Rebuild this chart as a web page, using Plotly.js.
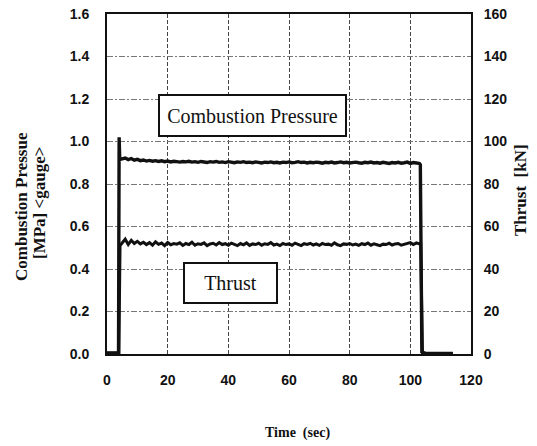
<!DOCTYPE html>
<html>
<head>
<meta charset="utf-8">
<script src="https://cdn.plot.ly/plotly-3.0.1.min.js"></script>
<style>html,body{margin:0;padding:0;background:#fff;}#chart{width:537px;height:446px;}</style>
</head>
<body>
<div id="chart"></div>
<script>
// Time (sec)
var pressureTime = [0, 2, 3.8, 4.0, 4.2, 5, 6, 7, 8, 9, 10, 11, 12, 13, 14, 15, 16, 17, 18, 19, 20,
  21, 22, 23, 24, 25, 26, 27, 28, 29, 30, 31, 32, 33, 34, 35, 36, 37, 38, 39, 40,
  41, 42, 43, 44, 45, 46, 47, 48, 49, 50, 51, 52, 53, 54, 55, 56, 57, 58, 59, 60,
  61, 62, 63, 64, 65, 66, 67, 68, 69, 70, 71, 72, 73, 74, 75, 76, 77, 78, 79, 80,
  81, 82, 83, 84, 85, 86, 87, 88, 89, 90, 91, 92, 93, 94, 95, 96, 97, 98, 99, 100,
  101, 102, 103, 103.3, 103.8, 105, 110, 114];
// Combustion pressure (MPa gauge)
var pressure = [0.005, 0.004, 0.006, 1.02, 0.915, 0.918, 0.922, 0.915, 0.920, 0.912, 0.916, 0.910, 0.913, 0.908, 0.911, 0.907, 0.910, 0.906, 0.909, 0.905, 0.908,
  0.904, 0.907, 0.905, 0.903, 0.906, 0.904, 0.907, 0.903, 0.905, 0.902, 0.906, 0.904, 0.901, 0.905, 0.903, 0.906, 0.902, 0.904, 0.901, 0.905,
  0.903, 0.900, 0.904, 0.902, 0.905, 0.901, 0.903, 0.900, 0.904, 0.902, 0.899, 0.903, 0.901, 0.904, 0.900, 0.902, 0.899, 0.903, 0.901, 0.904,
  0.900, 0.902, 0.905, 0.901, 0.903, 0.899, 0.902, 0.900, 0.903, 0.901, 0.898, 0.902, 0.900, 0.903, 0.899, 0.901, 0.904, 0.900, 0.902, 0.899,
  0.901, 0.903, 0.900, 0.898, 0.902, 0.900, 0.903, 0.899, 0.901, 0.898, 0.902, 0.900, 0.897, 0.901, 0.899, 0.902, 0.898, 0.900, 0.903, 0.897,
  0.901, 0.899, 0.896, 0.890, 0.010, 0.002, 0.001, 0.002];

var thrustTime = [0, 2, 3.9, 4.3, 5, 6, 7, 8, 9, 10, 11, 12, 13, 14, 15, 16, 17, 18, 19, 20,
  21, 22, 23, 24, 25, 26, 27, 28, 29, 30, 31, 32, 33, 34, 35, 36, 37, 38, 39, 40,
  41, 42, 43, 44, 45, 46, 47, 48, 49, 50, 51, 52, 53, 54, 55, 56, 57, 58, 59, 60,
  61, 62, 63, 64, 65, 66, 67, 68, 69, 70, 71, 72, 73, 74, 75, 76, 77, 78, 79, 80,
  81, 82, 83, 84, 85, 86, 87, 88, 89, 90, 91, 92, 93, 94, 95, 96, 97, 98, 99, 100,
  101, 102, 103, 103.4, 104, 110, 114];
// Thrust (kN)
var thrust = [0.3, 0.2, 0.4, 51.0, 52.5, 54.0, 51.5, 53.5, 52.0, 53.0, 51.8, 52.6, 51.5, 52.4, 51.2, 52.8, 51.6, 52.2, 51.0, 52.5,
  51.4, 52.0, 51.7, 52.3, 51.1, 52.0, 51.5, 52.6, 51.2, 51.9, 51.6, 52.3, 51.0, 51.8, 52.1, 51.3, 52.4, 51.5, 51.9, 51.2,
  52.2, 51.6, 51.0, 52.0, 51.4, 52.3, 51.1, 51.8, 51.5, 52.1, 51.2, 51.9, 51.6, 52.4, 51.3, 51.7, 51.0, 52.0, 51.5, 51.8,
  51.2, 52.2, 51.4, 51.0, 51.9, 51.6, 52.1, 51.3, 51.8, 51.1, 52.0, 51.5, 51.7, 51.2, 52.3, 51.4, 51.0, 51.8, 51.6, 52.0,
  51.3, 51.7, 51.1, 51.9, 51.5, 52.2, 51.2, 51.8, 51.4, 51.0, 51.7, 51.5, 52.1, 51.3, 51.8, 52.0, 51.2, 51.6, 51.9, 52.4,
  51.5, 52.3, 51.8, 52.0, 0.5, 0.2, 0.3];

var xTicks = [0, 20, 40, 60, 80, 100, 120];
var yTicks = [0.0, 0.2, 0.4, 0.6, 0.8, 1.0, 1.2, 1.4, 1.6];
var y2Ticks = [0, 20, 40, 60, 80, 100, 120, 140, 160];

var tickFont = {family: 'Arial, Liberation Sans, sans-serif', size: 14, color: '#111', weight: 'bold'};
var serif = 'Liberation Serif, Times New Roman, serif';

var traces = [
  {x: pressureTime, y: pressure, type: 'scatter', mode: 'lines', line: {color: '#111', width: 3.4}, hoverinfo: 'skip'},
  {x: thrustTime, y: thrust, type: 'scatter', mode: 'lines', yaxis: 'y2', line: {color: '#111', width: 3.0}, hoverinfo: 'skip'}
];

var layout = {
  width: 537, height: 446,
  margin: {l: 107, r: 66, t: 14, b: 92},
  paper_bgcolor: '#fff', plot_bgcolor: '#fff',
  showlegend: false,
  xaxis: {
    range: [0, 120], tickvals: xTicks, ticktext: xTicks.map(String),
    showline: true, linecolor: '#111', linewidth: 2, mirror: true,
    showgrid: true, gridcolor: '#444', gridwidth: 1, griddash: '4px,2px',
    zeroline: false, ticks: '', tickfont: tickFont, ticklabelstandoff: 12
  },
  yaxis: {
    range: [0, 1.6], tickvals: yTicks, ticktext: yTicks.map(function(v){return v.toFixed(1);}),
    showline: true, linecolor: '#111', linewidth: 2,
    showgrid: true, gridcolor: '#777', gridwidth: 1, griddash: '6px,2px,2px,2px',
    zeroline: false, ticks: '', tickfont: tickFont, ticklabelstandoff: 13
  },
  yaxis2: {
    range: [0, 160], overlaying: 'y', side: 'right', tickvals: y2Ticks, ticktext: y2Ticks.map(String),
    showline: true, linecolor: '#111', linewidth: 2, showgrid: false, zeroline: false,
    ticks: '', tickfont: tickFont, ticklabelstandoff: 8
  },
  annotations: [
    {x: 48, y: 1.122, xref: 'x', yref: 'y', text: 'Combustion Pressure', showarrow: false,
     font: {family: serif, size: 20, color: '#111'}, bordercolor: '#111', borderwidth: 2,
     borderpad: 0, width: 185, height: 39, bgcolor: '#fff'},
    {x: 40.7, y: 0.334, xref: 'x', yref: 'y', text: 'Thrust', showarrow: false,
     font: {family: serif, size: 20, color: '#111'}, bordercolor: '#111', borderwidth: 2,
     borderpad: 0, width: 91, height: 38, bgcolor: '#fff'},
    {x: 21, y: 207, text: '<b>Combustion Pressue</b>', showarrow: false, textangle: -90,
     font: {family: serif, size: 17, color: '#111'}},
    {x: 39, y: 203, text: '<b>[MPa] &lt;gauge&gt;</b>', showarrow: false, textangle: -90,
     font: {family: serif, size: 17, color: '#111'}},
    {x: 521, y: 190, text: '<b>Thrust  [kN]</b>', showarrow: false, textangle: -90,
     font: {family: serif, size: 17, color: '#111'}},
    {x: 297, y: 433, text: '<b>Time  (sec)</b>', showarrow: false,
     font: {family: serif, size: 14, color: '#111'}}
  ]
};
// convert pixel-positioned title annotations to paper coords
var plotW = 537 - 107 - 66, plotH = 446 - 14 - 92;
layout.annotations.slice(2).forEach(function(a){
  a.xref = 'paper'; a.yref = 'paper';
  a.x = (a.x - 107) / plotW;
  a.y = (446 - 92 - a.y) / plotH;
  a.xanchor = 'center'; a.yanchor = 'middle';
});

Plotly.newPlot('chart', traces, layout, {displayModeBar: false, staticPlot: true});
</script>
</body>
</html>
